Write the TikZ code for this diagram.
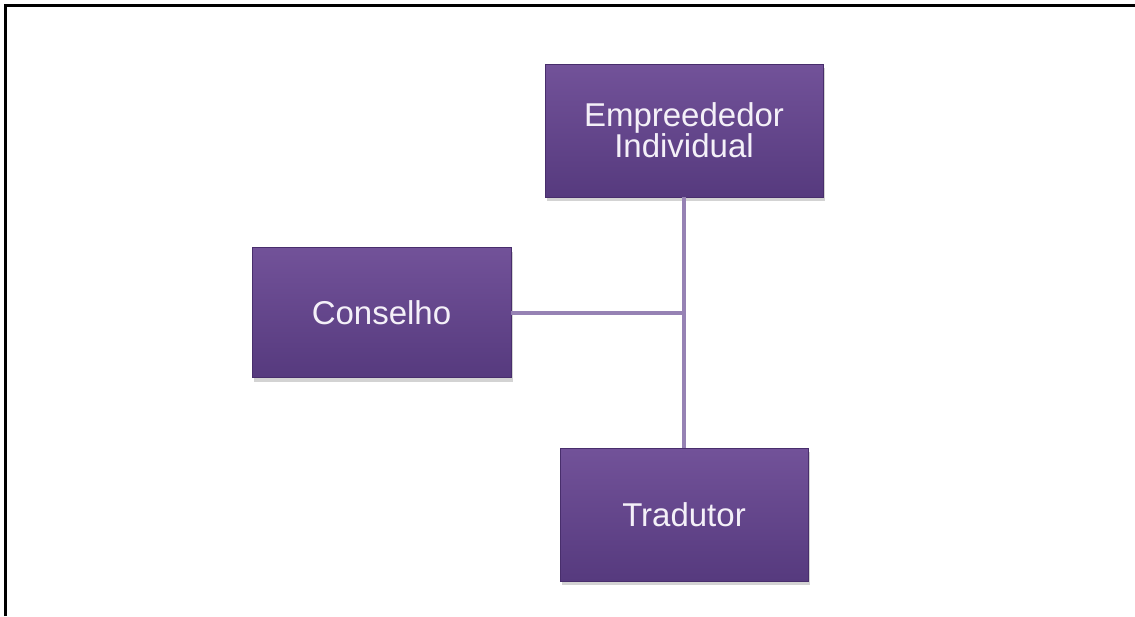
\documentclass[tikz,border=0pt]{standalone}
\usepackage{fontspec}
\setmainfont{Liberation Sans}
\usepackage{tikz}
\usetikzlibrary{positioning,calc,shadows}
\usepackage{xcolor}
\definecolor{orgtop}{RGB}{114,82,153}
\definecolor{orgbot}{RGB}{86,58,126}
\definecolor{orgedge}{RGB}{72,46,108}
\definecolor{orgline}{RGB}{150,130,180}
\definecolor{orgtext}{RGB}{244,240,248}

\begin{document}
\begin{tikzpicture}[
    x=1pt, y=-1pt,
    orgbox/.style={rectangle, top color=orgtop, bottom color=orgbot, draw=orgedge, line width=0.8pt,
                   minimum width=#1, align=center, text=orgtext,
                   font=\fontsize{33}{31}\selectfont, inner sep=4pt,
                   drop shadow={opacity=0.35, shadow xshift=2pt, shadow yshift=-4pt}},
    link/.style={draw=orgline, line width=4pt}
]
\useasboundingbox (0,0) rectangle (1135,616);
% frame
\draw[line width=3pt] (5,616) -- (5,5) -- (1135,5);

\node[orgbox=278pt, minimum height=133pt] (emp)  at (684,130.5) {Empreededor\\Individual};
\node[orgbox=259pt, minimum height=130pt] (cons) at (381.5,312.5) {Conselho};
\node[orgbox=248pt, minimum height=133pt] (trad) at (684,514.5) {Tradutor};

\coordinate (junc) at (684,312.5);
\draw[link] (emp.south) -- (trad.north);
\draw[link] (cons.east) -- (junc);
\end{tikzpicture}
\end{document}
